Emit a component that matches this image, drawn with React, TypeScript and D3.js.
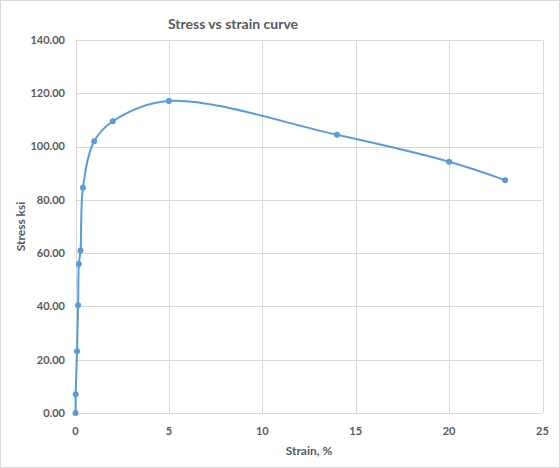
import React from "react";
import * as d3 from "d3";

const strain = [0, 0.01, 0.08, 0.14, 0.18, 0.27, 0.4, 1, 2, 5, 14, 20, 23];
const stress = [0, 7.0, 23.2, 40.4, 55.9, 61.0, 84.5, 102.0, 109.5, 117.1, 104.4, 94.3, 87.4];
const xTicks = [0, 5, 10, 15, 20, 25];
const yTicks = [0, 20, 40, 60, 80, 100, 120, 140];
const title = "Stress vs strain curve";
const xTitle = "Strain, %";
const yTitle = "Stress ksi";

const W = 560;
const H = 468;
const L = 75.5, R = 542.5, T = 40, B = 413;

export default function App() {
  const x = d3.scaleLinear().domain([0, 25]).range([L, R]);
  const y = d3.scaleLinear().domain([0, 140]).range([B, T]);
  const pts: [number, number][] = strain.map((s, i) => [s, stress[i]]);
  const line = d3
    .line<[number, number]>()
    .x((d) => x(d[0]))
    .y((d) => y(d[1]))
    .curve(d3.curveCatmullRom.alpha(0.5));
  const font = "Lato, 'Open Sans', sans-serif";
  const grey = "#595959";
  return (
    <svg
      width={W}
      height={H}
      style={{ position: "absolute", left: 0, top: 0, background: "#fff" }}
      fontFamily={font}
    >
      <rect x={0.5} y={0.5} width={W - 1} height={H - 1} fill="#fff" stroke="#d9d9d9" />
      {yTicks.map((t) => (
        <g key={"y" + t}>
          <line x1={L} x2={R} y1={Math.round(y(t)) + 0.5} y2={Math.round(y(t)) + 0.5} stroke="#d9d9d9" />
          <text x={65} y={y(t)} dy="0.35em" textAnchor="end" fontSize={11} fontWeight="bold" fill={grey}>
            {t.toFixed(2)}
          </text>
        </g>
      ))}
      {xTicks.map((t) => (
        <g key={"x" + t}>
          <line x1={Math.round(x(t)) + 0.5} x2={Math.round(x(t)) + 0.5} y1={T} y2={B} stroke="#d9d9d9" />
          <text x={x(t)} y={431} dy="0.35em" textAnchor="middle" fontSize={11} fontWeight="bold" fill={grey}>
            {t}
          </text>
        </g>
      ))}
      <path d={line(pts) || ""} fill="none" stroke="#5b9bd5" strokeWidth={2} />
      {pts.map((p, i) => (
        <circle key={i} cx={x(p[0])} cy={y(p[1])} r={3} fill="#5b9bd5" />
      ))}
      <text x={233} y={24} dy="0.35em" textAnchor="middle" fontSize={14} fontWeight="bold" fill={grey}>
        {title}
      </text>
      <text x={309} y={451} dy="0.35em" textAnchor="middle" fontSize={12} fontWeight="bold" fill={grey}>
        {xTitle}
      </text>
      <text
        transform={`translate(21,${(T + B) / 2}) rotate(-90)`}
        dy="0.35em"
        textAnchor="middle"
        fontSize={12}
        fontWeight="bold"
        fill={grey}
      >
        {yTitle}
      </text>
    </svg>
  );
}
